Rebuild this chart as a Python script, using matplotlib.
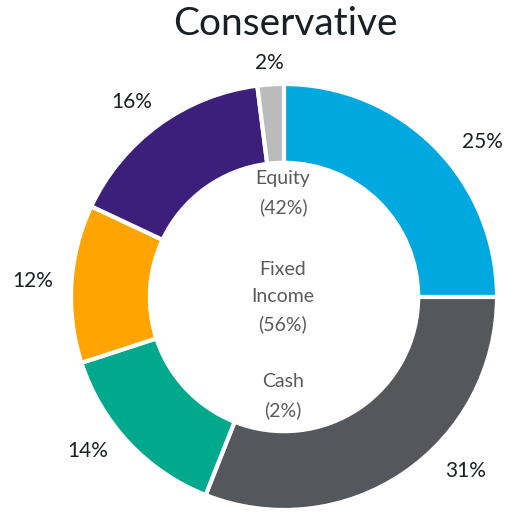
import numpy as np
import matplotlib
matplotlib.use("Agg")
import matplotlib.pyplot as plt

title = "Conservative"
values = [25, 31, 14, 12, 16, 2]
labels = ["25%", "31%", "14%", "12%", "16%", "2%"]
colors = ["#00A8E0", "#54575C", "#00A88C", "#FFA400", "#3C1F7A", "#BABBBA"]
center_lines = ["Equity\n(42%)", "Fixed\nIncome\n(56%)", "Cash\n(2%)"]
label_shift_deg = [-7, 12, -5, 0, 2, 0]
label_dist = [1.18, 1.18, 1.17, 1.18, 1.16, 1.10]

plt.rcParams['font.family'] = ['Lato', 'DejaVu Sans']

W, H = 510, 512
fig = plt.figure(figsize=(W / 100, H / 100), dpi=100)
ax = fig.add_axes([0, 0, 1, 1])
ax.set_xlim(0, W)
ax.set_ylim(0, H)
ax.set_aspect('equal')
ax.axis('off')

cx, cy, R = 284, H - 297, 213
wedges, _ = ax.pie(values, colors=colors, startangle=90, counterclock=False,
                   center=(cx, cy), radius=R,
                   wedgeprops=dict(width=R * 0.37, edgecolor='white', linewidth=3))
ax.set_xlim(0, W)
ax.set_ylim(0, H)

for w, lab, sh, dd in zip(wedges, labels, label_shift_deg, label_dist):
    ang = np.deg2rad((w.theta1 + w.theta2) / 2 + sh)
    d = R * dd
    ax.text(cx + d * np.cos(ang), cy + d * np.sin(ang), lab, ha='center', va='center',
            fontsize=15, color='#1A1F26')

offsets = [-104, 0, 99]
for txt, off in zip(center_lines, offsets):
    ax.text(cx - 1, cy - off, txt, ha='center', va='center', fontsize=14,
            color='#5A5A5A', linespacing=1.7)

fig.text(285 / W, 1 - 24 / H, title, ha='center', va='center', fontsize=28,
         color='#1A1F26')

fig.savefig("out.png", dpi=100)
